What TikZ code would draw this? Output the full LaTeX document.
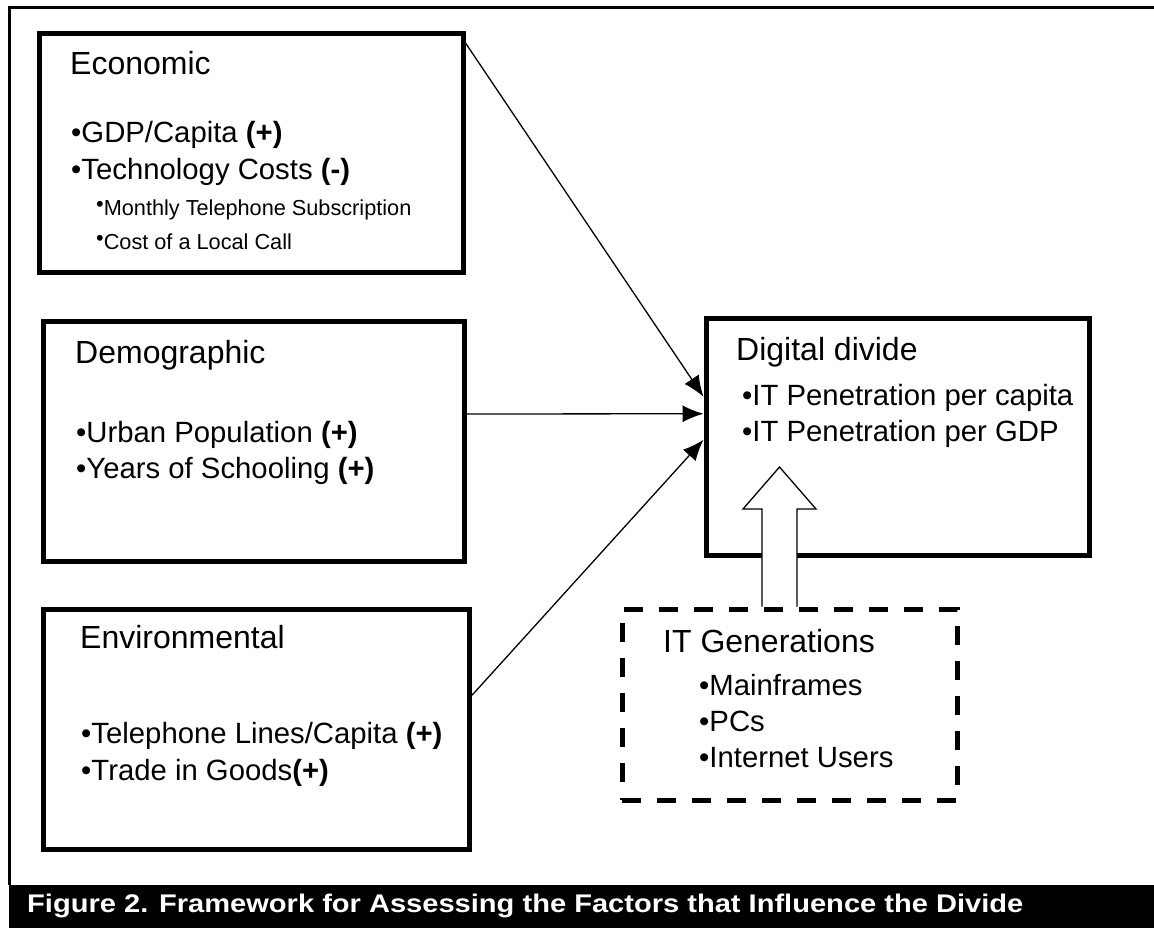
\documentclass[tikz,border=0pt]{standalone}
\usepackage{fontspec}
\setmainfont{Liberation Sans}
\usepackage{tikz}
\usetikzlibrary{arrows.meta,calc}
\tikzset{>={Latex[length=21pt,width=17pt]}}

\begin{document}
\begin{tikzpicture}[
	x=1pt, y=-1pt,
	factor/.style={draw, rectangle, line width=5pt, inner sep=0pt},
	gens/.style={draw, rectangle, line width=5pt, dash pattern=on 19pt off 16pt, inner sep=0pt},
	heading/.style={anchor=base west, inner sep=0pt, font=\fontsize{32}{38}\selectfont},
	item/.style={anchor=base west, inner sep=0pt, font=\fontsize{29.3}{35}\selectfont},
	subitem/.style={anchor=base west, inner sep=0pt, font=\fontsize{21.7}{26}\selectfont},
	link/.style={->, line width=1.3pt},
	blockarrow/.style={draw, fill=white, line width=1.3pt, line join=miter},
	frame/.style={line width=2.5pt}
]
	\useasboundingbox (0,0) rectangle (1154,928);
	\def\subbul{\raisebox{4pt}{•}}

	% outer frame and caption bar
	\draw[frame] (9.7,885) |- (1154,7.3);
	\fill[black] (8.5,885) rectangle (1154,928);
	\node[anchor=base west, inner sep=0pt, text=white, font=\fontsize{25.5}{30}\selectfont\bfseries] (caption) at (27,912)
		{\scalebox{1.14}[1]{Figure 2. Framework for Assessing the Factors that Influence the Divide}};

	% factor boxes
	\node[factor, minimum width=424pt, minimum height=238.5pt] (econ) at (251,152.75) {};
	\node[factor, minimum width=421pt, minimum height=240pt] (demo) at (253.5,441) {};
	\node[factor, minimum width=426.5pt, minimum height=239.5pt] (env) at (256.25,729.25) {};
	\node[factor, minimum width=383pt, minimum height=237.5pt] (dd) at (897.5,436.75) {};
	\node[gens, minimum width=335pt, minimum height=191pt] (itgen) at (789.5,704.5) {};

	% economic
	\node[heading] (econ-title) at (70,75) {Economic};
	\foreach \txt [count=\i from 0] in {•GDP/Capita \textbf{(+)}, •Technology Costs \textbf{(-)}}
		\node[item] (econ-item\i) at (71,{143+37*\i}) {\txt};
	\foreach \txt [count=\i from 0] in {Monthly Telephone Subscription, Cost of a Local Call}
		\node[subitem] (econ-sub\i) at (96,{216+34*\i}) {\subbul\txt};

	% demographic
	\node[heading] (demo-title) at (75,363) {Demographic};
	\foreach \txt [count=\i from 0] in {•Urban Population \textbf{(+)}, •Years of Schooling \textbf{(+)}}
		\node[item] (demo-item\i) at (76,{442+36*\i}) {\txt};

	% environmental
	\node[heading] (env-title) at (80,648) {Environmental};
	\foreach \txt [count=\i from 0] in {•Telephone Lines/Capita \textbf{(+)}, •Trade in Goods\textbf{(+)}}
		\node[item] (env-item\i) at (81,{743+37*\i}) {\txt};

	% digital divide
	\node[heading] (dd-title) at (736,360) {Digital divide};
	\foreach \txt [count=\i from 0] in {•IT Penetration per capita, •IT Penetration per GDP}
		\node[item] (dd-item\i) at (742,{405+36*\i}) {\txt};

	% it generations
	\node[heading] (itgen-title) at (663,652) {IT Generations};
	\foreach \txt [count=\i from 0] in {•Mainframes, •PCs, •Internet Users}
		\node[item] (itgen-item\i) at (699,{695+36*\i}) {\txt};

	% influences
	\draw[link] ($(econ.north east)+(0,12)$) -- ($(dd.west)+(0,-40)$);
	\draw[link] ($(demo.east)+(0,-27)$) -- ($(dd.west)+(0,-23)$);
	\draw[link] ($(env.east)+(0,-34)$) -- ($(dd.west)+(0,3)$);
	\draw[blockarrow] ($(itgen.north)+(-27.5,0)$) -- ++(0,-97.5) -- ++(-19,0)
		-- ++(36.5,-42) -- ++(36.5,42) -- ++(-19,0) -- ++(0,97.5);
\end{tikzpicture}
\end{document}
